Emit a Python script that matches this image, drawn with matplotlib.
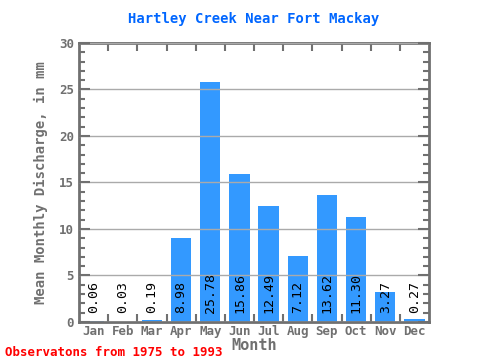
import matplotlib
matplotlib.use("Agg")
import matplotlib.pyplot as plt
from matplotlib.ticker import MultipleLocator

months = ["Jan", "Feb", "Mar", "Apr", "May", "Jun", "Jul", "Aug", "Sep", "Oct", "Nov", "Dec"]
discharge = [0.06, 0.03, 0.19, 8.98, 25.78, 15.86, 12.49, 7.12, 13.62, 11.30, 3.27, 0.27]
labels = ["0.06", "0.03", "0.19", "8.98", "25.78", "15.86", "12.49", "7.12", "13.62", "11.30", "3.27", "0.27"]

GRAY = "#707070"
BLUE = "#3399FF"
MONO = "DejaVu Sans Mono"

fig = plt.figure(figsize=(4.8, 3.6), dpi=100)
ax = fig.add_axes([0.1646, 0.1056, 0.7292, 0.775])

x = list(range(len(months)))
ax.bar(x, discharge, width=0.7, color=BLUE, zorder=2)
for xi, lab in zip(x, labels):
    ax.text(xi, 1.0, lab, rotation=90, ha="center", va="bottom",
            fontsize=9.5, family=MONO, color="black", zorder=4)

ax.set_xlim(-0.5, 11.5)
ax.set_ylim(0, 30)
ax.yaxis.set_major_locator(MultipleLocator(5))
ax.yaxis.set_minor_locator(MultipleLocator(1))
ax.set_xticks(x)
ax.set_xticklabels(months)
ax.set_xticks([i + 0.5 for i in range(11)], minor=True)
ax.grid(axis="y", which="major", color="#AAAAAA", linewidth=1, zorder=3)
ax.set_axisbelow(False)

for s in ax.spines.values():
    s.set_color(GRAY)
    s.set_linewidth(2)
ax.tick_params(axis="y", which="both", direction="in", left=True, right=True,
               color=GRAY, width=1.5, labelsize=9, labelcolor=GRAY)
ax.tick_params(axis="y", which="major", length=8)
ax.tick_params(axis="y", which="minor", length=4)
ax.tick_params(axis="x", which="major", length=0, labelsize=9, labelcolor=GRAY, pad=2)
ax.tick_params(axis="x", which="minor", direction="in", top=True, bottom=True,
               length=6, color=GRAY, width=1.5)
for t in ax.get_xticklabels() + ax.get_yticklabels():
    t.set_family(MONO)
    t.set_fontweight("bold")

ax.set_xlabel("Month", family=MONO, fontweight="bold", color=GRAY, fontsize=11, labelpad=0)
ax.set_ylabel("Mean Monthly Discharge, in mm", family=MONO, fontweight="bold",
              color=GRAY, fontsize=10, labelpad=8)
ax.set_title("Hartley Creek Near Fort Mackay", family=MONO, fontweight="bold",
             color="#0066FF", fontsize=10, pad=14.5)
fig.text(0.01, 0.012, "Observatons from 1975 to 1993", family=MONO, fontweight="bold",
         color="#FF0000", fontsize=9)

fig.savefig("out.png", dpi=100, facecolor="white")
